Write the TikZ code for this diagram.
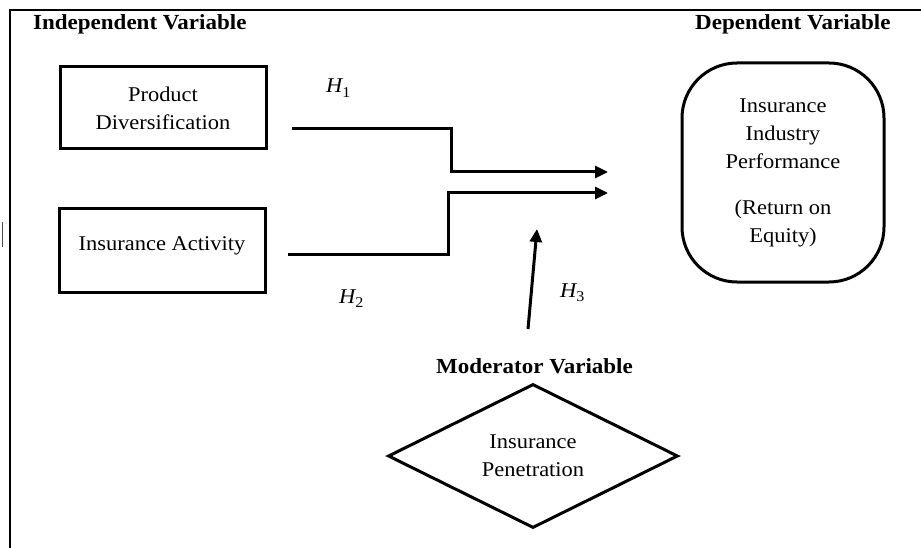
\documentclass[tikz,border=0pt]{standalone}
\usepackage{fontspec}
\setmainfont{Liberation Serif}[FakeStretch=1.07]
\usetikzlibrary{arrows.meta,shapes.geometric}
\newcommand{\hyplab}[1]{{\itshape H}\raisebox{-4.5pt}{\fontsize{15}{15}\selectfont #1}}
\begin{document}
\begin{tikzpicture}[x=1pt,y=-1pt,
  txt/.style={font=\fontsize{21}{28}\selectfont, align=center},
  hdr/.style={font=\fontsize{21.5}{28}\selectfont\bfseries, anchor=base west, inner sep=0},
  hyp/.style={font=\fontsize{21}{24}\selectfont, anchor=base west, inner sep=0},
  box/.style={draw, line width=3pt, rectangle, inner sep=0, txt},
  conn/.style={line width=3pt, -{Triangle[length=13pt,width=12pt]}},
  frame/.style={line width=1.6pt},
]
\useasboundingbox (0,0) rectangle (921,548);
% frame
\draw[frame] (921,10) -- (10,10) -- (10,548);
\draw[line width=1pt, black!70] (2,222) -- (2,247);
% headers
\node[hdr] (iv) at (33,30) {Independent Variable};
\node[hdr] (dv) at (695,30) {Dependent Variable};
\node[hdr, anchor=base] (mv) at (534.5,373) {Moderator Variable};
% boxes
\node[box, minimum width=206pt, minimum height=82pt] (pd) at (163,108) {Product\\Diversification};
\node[box, minimum width=206pt, minimum height=83pt] (ia) at (162,250.5) {\raisebox{0pt}[0pt][0pt]{Insurance Activity}};
\node[box, rounded corners=55pt, minimum width=202pt, minimum height=219pt] (perf) at (783,172.5)
  {Insurance\\Industry\\Performance\\[18pt](Return on\\Equity)};
\node[draw, diamond, shape aspect=2, line width=3pt, minimum width=290pt, minimum height=144pt, inner sep=0, txt] (pen) at (533,456) {Insurance\\Penetration};
% hypotheses
\node[hyp] (h1) at (326,93) {\hyplab{1}};
\node[hyp] (h2) at (339,303) {\hyplab{2}};
\node[hyp] (h3) at (560,297) {\hyplab{3}};
% connectors
\coordinate (a1s) at (292,129);
\coordinate (j1) at (451,150);
\coordinate (a1e) at (608,172);
\coordinate (a2s) at (288,254);
\coordinate (j2) at (448,220);
\coordinate (a2e) at (608,193);
\coordinate (m1) at (528,329);
\coordinate (m2) at (537,229);
\draw[conn] (a1s) -| (j1) |- (a1e);
\draw[conn] (a2s) -| (j2) |- (a2e);
\draw[conn] (m1) -- (m2);
\end{tikzpicture}
\end{document}
